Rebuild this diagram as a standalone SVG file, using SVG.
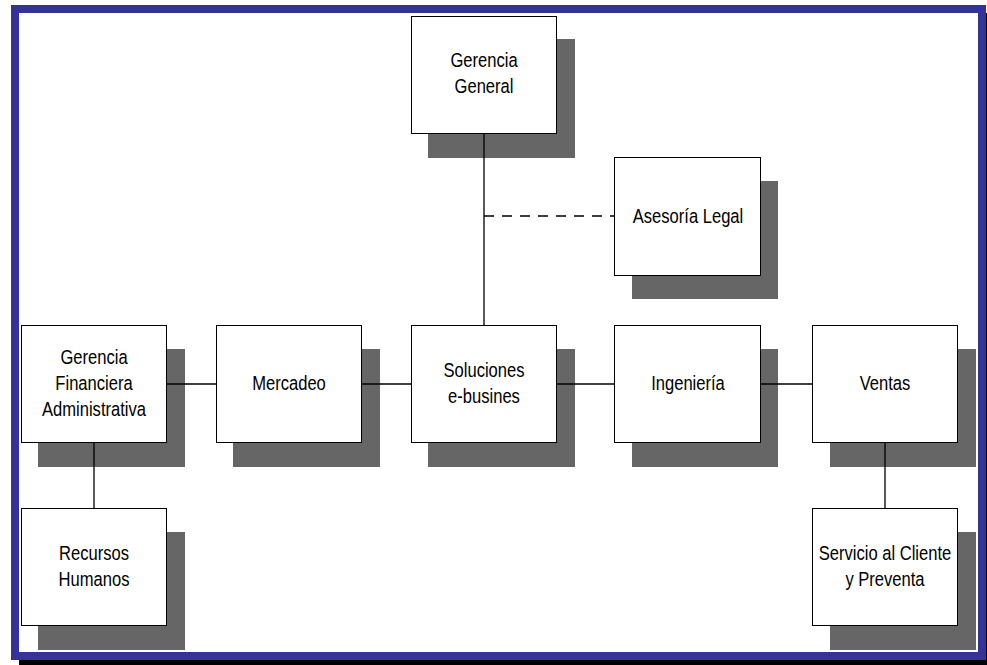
<svg xmlns="http://www.w3.org/2000/svg" width="987" height="665" viewBox="0 0 987 665">
  <style>
    .shadow { fill: #666666; }
    .box { fill: #ffffff; stroke: #000000; stroke-width: 1; }
    .label { font-family: "Liberation Sans", Arial, sans-serif; font-size: 19.5px; fill: #000000; text-anchor: middle; }
    .link { stroke: #000000; stroke-width: 1.3; fill: none; }
    .dashed { stroke-dasharray: 10 8; }
  </style>

  <!-- page frame -->
  <rect x="0" y="0" width="987" height="665" fill="#ffffff"/>
  <rect x="19" y="13" width="980" height="660" fill="#000000"/>
  <rect x="15" y="9" width="967" height="647" fill="#ffffff" stroke="#333399" stroke-width="8"/>

  <!-- nodes -->
  <g id="gerencia-general">
    <rect class="shadow" x="428" y="39" width="147" height="119"/>
    <rect class="box" x="411.5" y="16.5" width="145" height="117"/>
    <g transform="translate(484 0) scale(0.85 1)">
      <text class="label" x="0" y="67">Gerencia</text>
      <text class="label" x="0" y="93">General</text>
    </g>
  </g>

  <g id="asesoria-legal">
    <rect class="shadow" x="632" y="181" width="146" height="118"/>
    <rect class="box" x="614.5" y="157.5" width="146" height="118"/>
    <g transform="translate(688 0) scale(0.85 1)">
      <text class="label" x="0" y="223">Asesoría Legal</text>
    </g>
  </g>

  <g id="gerencia-financiera">
    <rect class="shadow" x="38" y="349" width="147" height="118"/>
    <rect class="box" x="21.5" y="325.5" width="145" height="117"/>
    <g transform="translate(94 0) scale(0.85 1)">
      <text class="label" x="0" y="364">Gerencia</text>
      <text class="label" x="0" y="390">Financiera</text>
      <text class="label" x="0" y="416">Administrativa</text>
    </g>
  </g>

  <g id="mercadeo">
    <rect class="shadow" x="233" y="349" width="147" height="118"/>
    <rect class="box" x="216.5" y="325.5" width="145" height="117"/>
    <g transform="translate(289 0) scale(0.85 1)">
      <text class="label" x="0" y="390">Mercadeo</text>
    </g>
  </g>

  <g id="soluciones">
    <rect class="shadow" x="428" y="349" width="147" height="118"/>
    <rect class="box" x="411.5" y="325.5" width="145" height="117"/>
    <g transform="translate(484 0) scale(0.85 1)">
      <text class="label" x="0" y="377">Soluciones</text>
      <text class="label" x="0" y="403">e-busines</text>
    </g>
  </g>

  <g id="ingenieria">
    <rect class="shadow" x="632" y="349" width="146" height="118"/>
    <rect class="box" x="614.5" y="325.5" width="146" height="117"/>
    <g transform="translate(688 0) scale(0.85 1)">
      <text class="label" x="0" y="390">Ingeniería</text>
    </g>
  </g>

  <g id="ventas">
    <rect class="shadow" x="830" y="349" width="146" height="118"/>
    <rect class="box" x="812.5" y="325.5" width="145" height="117"/>
    <g transform="translate(885 0) scale(0.85 1)">
      <text class="label" x="0" y="390">Ventas</text>
    </g>
  </g>

  <g id="recursos-humanos">
    <rect class="shadow" x="38" y="532" width="147" height="118"/>
    <rect class="box" x="21.5" y="508.5" width="145" height="117"/>
    <g transform="translate(94 0) scale(0.85 1)">
      <text class="label" x="0" y="560">Recursos</text>
      <text class="label" x="0" y="586">Humanos</text>
    </g>
  </g>

  <g id="servicio-cliente">
    <rect class="shadow" x="830" y="532" width="146" height="118"/>
    <rect class="box" x="812.5" y="508.5" width="145" height="117"/>
    <g transform="translate(885 0) scale(0.85 1)">
      <text class="label" x="0" y="560">Servicio al Cliente</text>
      <text class="label" x="0" y="586">y Preventa</text>
    </g>
  </g>

  <!-- connectors -->
  <g id="connectors">
    <line class="link" x1="484" y1="134" x2="484" y2="325"/>
    <line class="link dashed" x1="484" y1="216" x2="614" y2="216"/>
    <line class="link" x1="167" y1="384" x2="216" y2="384"/>
    <line class="link" x1="362" y1="384" x2="411" y2="384"/>
    <line class="link" x1="557" y1="384" x2="614" y2="384"/>
    <line class="link" x1="761" y1="384" x2="812" y2="384"/>
    <line class="link" x1="94" y1="443" x2="94" y2="508"/>
    <line class="link" x1="885" y1="443" x2="885" y2="508"/>
  </g>
</svg>
